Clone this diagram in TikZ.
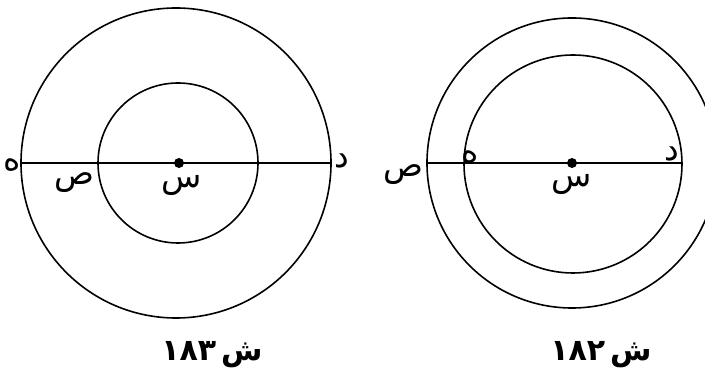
\documentclass[tikz,border=0pt]{standalone}
\usepackage{fontspec}
\newfontfamily\arabicfont[Script=Arabic]{DejaVu Sans}
\TeXXeTstate=1
\usetikzlibrary{positioning}
\tikzset{
  ring/.style={draw, line width=1.6pt},
  chord/.style={draw, line width=1.6pt},
  centre/.style={fill, circle, inner sep=0pt, minimum size=10pt},
  ptlabel/.style={font=\arabicfont\fontsize{33}{36}\selectfont, inner sep=0pt},
  figcap/.style={font=\arabicfont\bfseries\fontsize{30}{34}\selectfont, inner sep=0pt},
}
\newcommand{\artext}[1]{\beginR #1\endR}

\begin{document}
\begin{tikzpicture}[x=1pt, y=1pt]
  \useasboundingbox (0,0) rectangle (705,374);

  % figure 183
  \coordinate (oA) at (176,211);
  \coordinate (iA) at (178,211);
  \draw[ring] (oA) circle (155);
  \draw[ring] (iA) circle (80);
  \coordinate (hA) at (21,211);
  \coordinate (dA) at (331,211);
  \draw[chord] (hA) -- (dA);
  \node[centre] (sA) at (179,211) {};
  \node[ptlabel] (lhA) at (12,209) {\artext{ه}};
  \node[ptlabel] (lsadA) at (74,191) {\artext{ص}};
  \node[ptlabel] (lsinA) at (182,189) {\artext{س}};
  \node[ptlabel] (ldA) at (342,213) {\artext{د}};
  \node[figcap] (capA) at (212,19) {\artext{ش\hspace{5pt}\beginL ۱۸۳\endL}};

  % figure 182
  \coordinate (oB) at (572,211);
  \coordinate (iB) at (573,210);
  \draw[ring] (oB) circle (145);
  \draw[ring] (iB) circle (109);
  \coordinate (sadB) at (427,211);
  \coordinate (dB) at (682,211);
  \draw[chord] (sadB) -- (dB);
  \node[centre] (sB) at (572,211) {};
  \node[ptlabel] (lsadB) at (403,199) {\artext{ص}};
  \node[ptlabel] (lhB) at (470,217) {\artext{ه}};
  \node[ptlabel] (lsinB) at (572,190) {\artext{س}};
  \node[ptlabel] (ldB) at (672,220) {\artext{د}};
  \node[figcap] (capB) at (601,19) {\artext{ش\hspace{5pt}\beginL ۱۸۲\endL}};
\end{tikzpicture}
\end{document}
